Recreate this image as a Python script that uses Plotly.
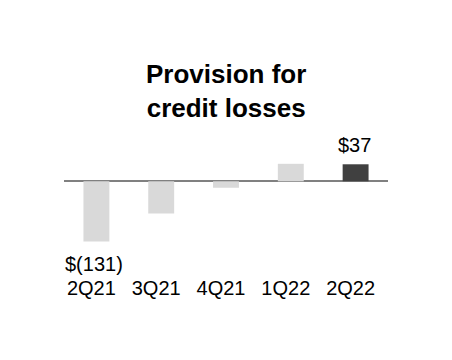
import plotly.graph_objects as go

quarters = ["2Q21", "3Q21", "4Q21", "1Q22", "2Q22"]
provision = [-131, -70, -14, 38, 37]
bar_colors = ["#d9d9d9", "#d9d9d9", "#d9d9d9", "#d9d9d9", "#404040"]
title_text = "Provision for<br>credit losses"
labels = {0: "$(131)", 4: "$37"}

FONT = "Liberation Sans, Arial, sans-serif"

fig = go.Figure()
fig.add_trace(go.Bar(
    x=quarters, y=provision, marker=dict(color=bar_colors, line=dict(width=0)),
    width=0.4, hoverinfo="skip",
))

# value labels
for i, txt in labels.items():
    v = provision[i]
    if v < 0:
        fig.add_annotation(x=quarters[i], y=v, text=txt, showarrow=False,
                           yanchor="top", yshift=-9, xshift=-2,
                           font=dict(family=FONT, size=20, color="#000"))
    else:
        fig.add_annotation(x=quarters[i], y=v, text=txt, showarrow=False,
                           yanchor="bottom", yshift=6, xshift=-1,
                           font=dict(family=FONT, size=20, color="#000"))

# title
fig.add_annotation(xref="paper", yref="paper", x=0.5, y=1.3217,
                   text="<b>%s</b>" % title_text,
                   showarrow=False, yanchor="middle", xanchor="center",
                   font=dict(family=FONT, size=26, color="#000"))

fig.update_layout(
    width=452, height=360,
    margin=dict(l=63.5, r=63.5, t=130, b=110),
    paper_bgcolor="white", plot_bgcolor="white",
    showlegend=False,
    font=dict(family=FONT, color="#000"),
)
fig.update_xaxes(
    type="category", range=[-0.5, 4.5], showgrid=False, showline=False,
    ticks="", tickfont=dict(family=FONT, size=20, color="#000"),
    ticklabelstandoff=24, ticklabelshift=-5,
)
fig.update_yaxes(
    range=[-149.3, 111.5], showgrid=False, showticklabels=False, ticks="",
    zeroline=True, zerolinecolor="#808080", zerolinewidth=2, layer="above traces",
)

fig.write_html("out.html")
